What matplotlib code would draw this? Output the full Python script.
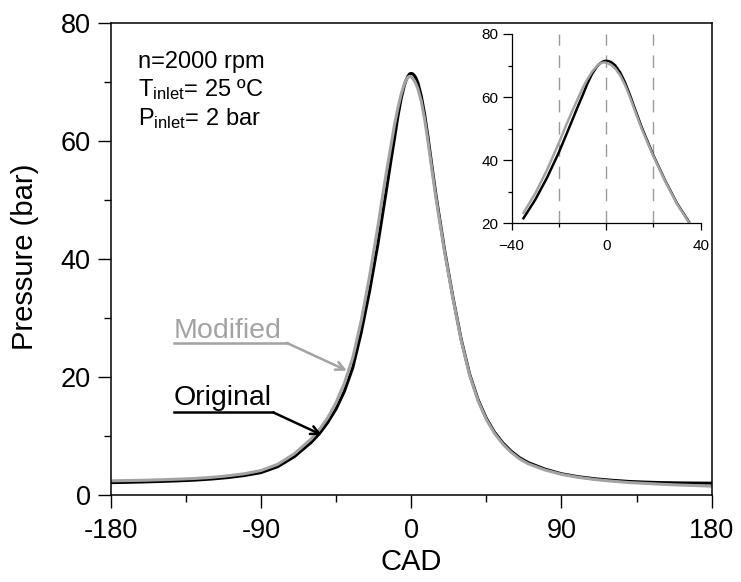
import matplotlib
matplotlib.use("Agg")
import matplotlib.pyplot as plt
import numpy as np

# crank angle (deg) and in-cylinder pressure (bar)
cad = [-180, -170, -160, -150, -140, -130, -120, -110, -100, -90, -80, -70, -60,
       -55, -50, -45, -40, -35, -30, -25, -20, -17, -15, -12, -10, -8, -6, -4,
       -3, -2, -1, 0, 1, 2, 3, 4, 6, 8, 10, 12, 15, 17, 20, 25, 30, 35, 40, 45,
       50, 55, 60, 65, 70, 80, 90, 100, 110, 120, 130, 140, 150, 160, 170, 180]

original = [2.1, 2.15, 2.22, 2.3, 2.4, 2.52, 2.7, 2.95, 3.3, 3.8, 4.8, 6.5, 8.9,
            10.4, 12.3, 14.6, 17.6, 21.6, 27.5, 34.5, 42.5, 47.9, 51.5, 57.0,
            60.5, 64.2, 67.3, 69.6, 70.4, 71.0, 71.4, 71.5, 71.4, 71.1, 70.6,
            69.9, 67.7, 64.6, 60.8, 56.6, 50.5, 46.9, 41.5, 33.5, 26.3, 20.5,
            16.2, 13.0, 10.6, 8.8, 7.4, 6.3, 5.5, 4.4, 3.6, 3.1, 2.75, 2.5, 2.3,
            2.18, 2.1, 2.05, 2.02, 2.0]

modified = [2.4, 2.45, 2.5, 2.58, 2.68, 2.8, 2.98, 3.25, 3.6, 4.15, 5.2, 7.0, 9.5,
            11.1, 13.1, 15.7, 19.0, 23.3, 29.5, 37.0, 45.5, 51.0, 54.5, 59.5,
            62.8, 65.6, 68.0, 69.8, 70.4, 70.85, 71.0, 70.9, 70.6, 70.2, 69.6,
            68.9, 66.8, 63.8, 60.1, 56.0, 50.0, 46.5, 41.2, 33.3, 26.1, 20.3,
            16.0, 12.8, 10.4, 8.6, 7.2, 6.1, 5.3, 4.25, 3.5, 3.0, 2.62, 2.35,
            2.12, 1.97, 1.82, 1.7, 1.6, 1.5]

x_ticks = [-180, -90, 0, 90, 180]
y_ticks = [0, 20, 40, 60, 80]
inset_x_ticks = [-40, 0, 40]
inset_y_ticks = [20, 40, 60, 80]
inset_guides = [-20, 0, 20]

conditions = ["n=2000 rpm",
              r"T$_{\mathrm{inlet}}$= 25 ºC",
              r"P$_{\mathrm{inlet}}$= 2 bar"]

GRAY = "#a3a3a3"

plt.rcParams["font.family"] = ["Liberation Sans", "DejaVu Sans"]
plt.rcParams["mathtext.fontset"] = "custom"
plt.rcParams["mathtext.rm"] = "Liberation Sans"
plt.rcParams["mathtext.it"] = "Liberation Sans:italic"
plt.rcParams["mathtext.bf"] = "Liberation Sans:bold"

fig = plt.figure(figsize=(7.41, 5.82), dpi=100)
ax = fig.add_axes([0.1494, 0.1495, 0.8111, 0.8105])

ax.plot(cad, original, color="black", lw=2.2, solid_joinstyle="round")
ax.plot(cad, modified, color=GRAY, lw=2.2, solid_joinstyle="round")

ax.set_xlim(-180, 180)
ax.set_ylim(0, 80)
ax.set_xticks(x_ticks)
ax.set_xticklabels([str(t) for t in x_ticks])
ax.set_yticks(y_ticks)
ax.set_xticks([-135, -45, 45, 135], minor=True)
ax.set_yticks([10, 30, 50, 70], minor=True)
ax.tick_params(which="major", direction="out", length=9.5, width=1.0,
               labelsize=19.5, pad=5)
ax.tick_params(axis="x", which="major", pad=7)
ax.tick_params(which="minor", direction="out", length=5, width=1.0)
for sp in ax.spines.values():
    sp.set_linewidth(1.1)

ax.set_xlabel("CAD", fontsize=21)
ax.set_ylabel("Pressure (bar)", fontsize=21)
ax.xaxis.set_label_coords(0.5, -0.143)
ax.xaxis.label.set_va("center")
ax.yaxis.set_label_coords(-0.143, 0.5046)
ax.yaxis.label.set_va("center")

# operating conditions
for i, line in enumerate(conditions):
    ax.text(0.045, 0.905 - i * 0.06, line, transform=ax.transAxes,
            fontsize=17, va="baseline", ha="left")

# labels with leader lines
ax.text(-142.1, 26.7, "Modified", color=GRAY, fontsize=20.5, va="baseline")
ax.plot([-142.1, -74.6], [25.8, 25.8], color=GRAY, lw=1.8)
ax.annotate("", xy=(-38.6, 21.1), xytext=(-74.6, 25.8),
            arrowprops=dict(arrowstyle="->,head_length=0.6,head_width=0.3",
                            color=GRAY, lw=1.8, shrinkA=0, shrinkB=0))

ax.text(-142.1, 15.3, "Original", color="black", fontsize=20.5, va="baseline")
ax.plot([-142.1, -82.6], [14.0, 14.0], color="black", lw=1.8)
ax.annotate("", xy=(-53.6, 10.2), xytext=(-82.6, 14.0),
            arrowprops=dict(arrowstyle="->,head_length=0.6,head_width=0.3",
                            color="black", lw=1.8, shrinkA=0, shrinkB=0))

# zoomed inset around TDC
ins = fig.add_axes([0.6905, 0.6163, 0.2551, 0.3253])
ins.patch.set_alpha(0)
cad_arr = np.array(cad)
near = np.abs(cad_arr) <= 35
for g in inset_guides:
    ins.axvline(g, color="#9a9a9a", lw=1.0, ls=(0, (9, 7)), zorder=0)
ins.plot(cad_arr[near], np.array(original)[near], color="black", lw=1.8,
         solid_joinstyle="round")
ins.plot(cad_arr[near], np.array(modified)[near], color=GRAY, lw=1.8,
         solid_joinstyle="round")
ins.set_xlim(-40, 40)
ins.set_ylim(20, 80)
ins.set_xticks(inset_x_ticks)
ins.set_yticks(inset_y_ticks)
ins.set_xticks([-20, 20], minor=True)
ins.set_yticks([30, 50, 70], minor=True)
ins.spines["top"].set_visible(False)
ins.spines["right"].set_visible(False)
for sp in ins.spines.values():
    sp.set_linewidth(0.9)
ins.tick_params(which="major", direction="out", length=6.5, width=0.9,
                labelsize=11, pad=3)
ins.tick_params(axis="x", which="major", length=5, pad=6)
ins.tick_params(which="minor", direction="out", length=3, width=0.9)

fig.savefig("out.png", dpi=100)
